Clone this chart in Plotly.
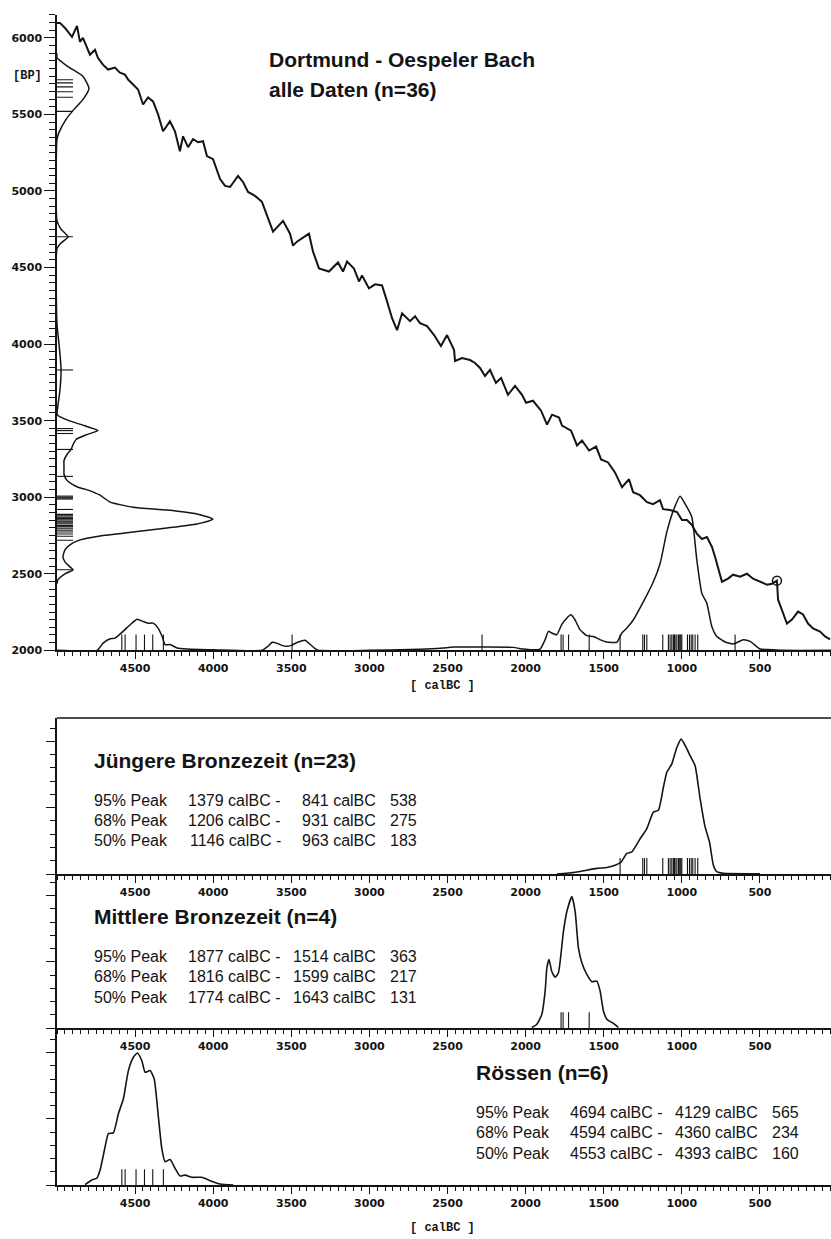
import plotly.graph_objects as go

# ---------------------------------------------------------------- data
# calibration curve (calBC, conventional 14C age BP)
cal_curve_calbc = [
    5000, 4981, 4949, 4930, 4904, 4872, 4853, 4834, 4808, 4789,
    4757, 4738, 4706, 4673, 4629, 4597, 4565, 4545, 4513, 4481,
    4449, 4417, 4385, 4353, 4321, 4277, 4245, 4213, 4193, 4161,
    4129, 4097, 4065, 4040, 4001, 3956, 3924, 3892, 3841, 3809,
    3777, 3732, 3688, 3656, 3617, 3553, 3508, 3489, 3464, 3406,
    3387, 3361, 3323, 3259, 3201, 3169, 3143, 3099, 3067, 3047,
    3003, 2964, 2919, 2887, 2855, 2823, 2791, 2740, 2708, 2676,
    2631, 2586, 2542, 2503, 2458, 2452, 2407, 2356, 2324, 2292,
    2260, 2228, 2190, 2157, 2113, 2068, 2023, 1997, 1953, 1901,
    1863, 1831, 1786, 1767, 1709, 1671, 1639, 1594, 1549, 1517,
    1472, 1428, 1383, 1338, 1312, 1268, 1223, 1184, 1140, 1120,
    1076, 1031, 999, 967, 935, 903, 871, 839, 807, 787,
    768, 743, 704, 672, 627, 583, 544, 500, 455, 423,
    391, 384, 352, 327, 295, 256, 224, 192, 160, 115,
    83, 51]
cal_curve_bp = [
    6098, 6098, 6065, 6039, 6007, 6078, 5974, 6000, 5935, 5890,
    5922, 5870, 5825, 5793, 5806, 5773, 5760, 5728, 5695, 5663,
    5565, 5611, 5585, 5500, 5390, 5455, 5390, 5260, 5357, 5286,
    5338, 5318, 5325, 5228, 5208, 5078, 5033, 5026, 5098, 5059,
    4994, 4968, 4929, 4838, 4734, 4805, 4721, 4643, 4669, 4708,
    4721, 4604, 4494, 4474, 4533, 4474, 4539, 4494, 4409, 4448,
    4364, 4390, 4383, 4279, 4169, 4091, 4201, 4150, 4182, 4137,
    4117, 4059, 3987, 4059, 3961, 3890, 3909, 3896, 3877, 3844,
    3792, 3831, 3747, 3779, 3669, 3727, 3669, 3617, 3630, 3565,
    3474, 3539, 3520, 3468, 3435, 3338, 3370, 3305, 3331, 3247,
    3227, 3162, 3065, 3117, 3033, 3013, 2968, 2955, 2981, 2922,
    2916, 2903, 2851, 2851, 2818, 2760, 2727, 2740, 2675, 2610,
    2533, 2448, 2468, 2494, 2481, 2500, 2468, 2448, 2429, 2435,
    2455, 2331, 2240, 2175, 2201, 2253, 2234, 2175, 2143, 2123,
    2091, 2071]
cal_marker_calbc = [391]
cal_marker_bp = [2455]

# summed 14C-age distribution (BP axis, relative density)
bp_density_bp = [
    5900, 5870, 5812, 5748, 5669, 5598, 5533, 5468, 5383, 5338,
    4805, 4750, 4701, 4660, 4624,
    4130, 4000, 3900, 3830, 3700, 3600, 3550,
    3533, 3500, 3468, 3435, 3409, 3377, 3344, 3312, 3279, 3240,
    3195, 3150, 3110, 3085, 3065, 3046, 3013, 2968, 2935, 2916,
    2890, 2857, 2825, 2799, 2773, 2747, 2721, 2688, 2656, 2610,
    2578, 2545, 2526, 2500, 2461, 2435]
bp_density = [
    0, 0, .071, .167, .205, .167, .109, .058, .013, 0,
    0, .026, .071, .026, 0,
    0, .013, .022, .026, .019, .006, 0,
    .006, .077, .173, .263, .192, .122, .103, .090, .064, .045,
    .045, .045, .064, .096, .135, .199, .276, .340, .487, .705,
    .897, 1.0, .897, .705, .487, .276, .147, .083, .051, .038,
    .051, .083, .103, .051, .006, 0]

# summed calibrated distribution, all data (calBC, relative density)
all_density_calbc = [
    5000, 4743, 4705, 4660, 4628, 4577, 4532, 4487, 4449, 4417, 4385,
    4353, 4327, 4308, 4276, 4231, 4167, 4001, 3688,
    3650, 3623, 3590, 3560, 3530, 3500, 3460, 3412, 3380, 3350, 3329,
    3000, 2740, 2600, 2528, 2464, 2272, 2080, 2016, 1960,
    1907, 1875, 1854, 1833, 1801, 1769, 1737, 1711, 1684, 1652,
    1609, 1566, 1525, 1483, 1416, 1384, 1352, 1310, 1246, 1182,
    1139, 1096, 1054, 1011, 979, 936, 904, 872, 840, 808,
    776, 723, 670, 606, 563, 499, 456, 349, 45]
all_density = [
    0, 0, .047, .075, .079, .123, .166, .202, .187, .176, .176,
    .144, .090, .037, .037, .015, .008, .003, 0,
    .026, .052, .045, .032, .026, .032, .052, .065, .039, .013, 0,
    0, .005, .010, .015, .021, .021, .019, .008, .003,
    .008, .069, .123, .112, .101, .166, .208, .230, .198, .134,
    .095, .090, .069, .054, .052, .112, .144, .198, .316, .445,
    .563, .768, .908, 1.0, .950, .865, .585, .370, .305, .155,
    .090, .054, .041, .069, .058, .008, .005, 0, 0]

# group distributions (calBC, relative density)
juengere_calbc = [1800, 1683, 1544, 1480, 1427, 1391, 1352, 1320, 1266, 1224,
                  1182, 1150, 1118, 1096, 1064, 1032, 1004, 972, 947, 915,
                  883, 851, 823, 798, 776, 734, 500]
juengere_density = [0, .013, .042, .049, .066, .086, .153, .164, .263, .337,
                    .459, .472, .643, .754, .816, .938, 1.0, .938, .877, .803,
                    .558, .349, .238, .066, .017, .005, .002]
mittlere_calbc = [1960, 1928, 1896, 1875, 1864, 1850, 1833, 1811, 1790, 1758,
                  1736, 1704, 1683, 1662, 1640, 1608, 1576, 1544, 1523, 1502,
                  1480, 1438, 1406]
mittlere_density = [.005, .030, .106, .282, .459, .522, .433, .388, .421, .735,
                    .887, 1.0, .887, .610, .497, .408, .353, .358, .282, .131,
                    .068, .036, .005]
roessen_calbc = [4820, 4777, 4745, 4724, 4692, 4671, 4639, 4607, 4575, 4543,
                 4511, 4485, 4457, 4436, 4404, 4378, 4351, 4329, 4308, 4276,
                 4244, 4212, 4180, 4137, 4073, 4020, 3956, 3871]
roessen_density = [.005, .040, .053, .115, .291, .391, .396, .541, .654, .867,
                   .968, 1.0, .942, .855, .867, .805, .517, .278, .178, .195,
                   .128, .070, .077, .060, .060, .035, .010, .002]

# individual samples
juengere_samples_calbc = [1395, 1250, 1239, 1224, 1122, 1086, 1075, 1064, 1054, 1047,
                          1043, 1032, 1022, 1017, 1011, 1006, 1000, 964, 951, 940,
                          930, 915, 898]
mittlere_samples_calbc = [1773, 1760, 1725, 1593]
roessen_samples_calbc = [4585, 4564, 4494, 4440, 4387, 4319]
other_samples_calbc = [3495, 2279, 659]

juengere_samples_bp = [3136, 3007, 3000, 2994, 2988, 2920, 2888, 2879, 2870, 2862,
                       2853, 2844, 2836, 2827, 2816, 2810, 2805, 2794, 2784, 2773,
                       2760, 2745, 2719]
mittlere_samples_bp = [3448, 3435, 3416, 3312]
roessen_samples_bp = [5727, 5706, 5680, 5648, 5612, 5520]
other_samples_bp = [4701, 3831, 2526]

# tick labels
x_tick_values = [4500, 4000, 3500, 3000, 2500, 2000, 1500, 1000, 500]
y_tick_values = [2000, 2500, 3000, 3500, 4000, 4500, 5000, 5500, 6000]

# peak statistics
peak_levels = ["95% Peak", "68% Peak", "50% Peak"]
juengere_from = [1379, 1206, 1146]
juengere_to = [841, 931, 963]
juengere_span = [538, 275, 183]
mittlere_from = [1877, 1816, 1774]
mittlere_to = [1514, 1599, 1643]
mittlere_span = [363, 217, 131]
roessen_from = [4694, 4594, 4553]
roessen_to = [4129, 4360, 4393]
roessen_span = [565, 234, 160]

# ---------------------------------------------------------------- layout helpers
W, H = 831, 1239
X_LEFT = 57


def py(p):
    return 1 - p / H


def pxx(p):
    return p / W


XR = [5000, 45]
TOP = (15, 654)
P1 = (722, 879)
P2 = (879, 1034)
P3 = (1034, 1192)
TOP_YR = [2000, 6150]
BP_DENS_PX = 156      # px width of density peak
ALL_DENS_PX = 155     # px height of all-data density peak
PANEL_PEAK_PX = [135.7, 132.3, 133.0]
TICK_PX = 16
INK = "#141414"
TICKFONT = dict(family="DejaVu Sans", size=11, color=INK, weight="bold")
MONO = dict(family="Liberation Mono, Courier New, monospace", size=12, color=INK, weight="bold")
SANS = "Liberation Sans, Arial, sans-serif"

fig = go.Figure()


def ticks_vertical(vals, h):
    xs, ys = [], []
    for v in vals:
        xs += [v, v, None]
        ys += [0, h, None]
    return xs, ys


def ticks_horizontal(vals, length):
    xs, ys = [], []
    for v in vals:
        xs += [0, length, None]
        ys += [v, v, None]
    return xs, ys


# --- top panel
fig.add_trace(go.Scatter(x=cal_curve_calbc, y=cal_curve_bp, mode="lines",
                         line=dict(color=INK, width=2.0), xaxis="x", yaxis="y",
                         showlegend=False, hoverinfo="skip"))
fig.add_trace(go.Scatter(x=cal_marker_calbc, y=cal_marker_bp, mode="markers",
                         marker=dict(symbol="circle-open", size=9, color=INK,
                                     line=dict(width=1.5, color=INK)),
                         xaxis="x", yaxis="y", showlegend=False))
fig.add_trace(go.Scatter(x=bp_density, y=bp_density_bp, mode="lines",
                         line=dict(color=INK, width=1.5, shape="spline", smoothing=0.5),
                         xaxis="x6", yaxis="y", showlegend=False))
all_bp_samples = roessen_samples_bp + other_samples_bp + mittlere_samples_bp + juengere_samples_bp
hx, hy = ticks_horizontal(all_bp_samples, TICK_PX / BP_DENS_PX)
fig.add_trace(go.Scatter(x=hx, y=hy, mode="lines", line=dict(color=INK, width=1.1),
                         xaxis="x6", yaxis="y", showlegend=False))
fig.add_trace(go.Scatter(x=all_density_calbc, y=all_density, mode="lines",
                         line=dict(color=INK, width=1.5, shape="spline", smoothing=0.5),
                         xaxis="x", yaxis="y5", showlegend=False))
all_cal_samples = roessen_samples_calbc + other_samples_calbc + mittlere_samples_calbc + juengere_samples_calbc
vx, vy = ticks_vertical(all_cal_samples, TICK_PX / ALL_DENS_PX)
fig.add_trace(go.Scatter(x=vx, y=vy, mode="lines", line=dict(color=INK, width=1.1),
                         xaxis="x", yaxis="y5", showlegend=False))

# --- group panels
groups = [
    ("x2", "y2", juengere_calbc, juengere_density, juengere_samples_calbc, PANEL_PEAK_PX[0]),
    ("x3", "y3", mittlere_calbc, mittlere_density, mittlere_samples_calbc, PANEL_PEAK_PX[1]),
    ("x4", "y4", roessen_calbc, roessen_density, roessen_samples_calbc, PANEL_PEAK_PX[2]),
]
for xa, ya, cx, cd, samples, peak_px in groups:
    fig.add_trace(go.Scatter(x=cx, y=cd, mode="lines",
                             line=dict(color=INK, width=1.6, shape="spline", smoothing=0.5),
                             xaxis=xa, yaxis=ya, showlegend=False))
    sx, sy = ticks_vertical(samples, TICK_PX / peak_px)
    fig.add_trace(go.Scatter(x=sx, y=sy, mode="lines", line=dict(color=INK, width=1.1),
                             xaxis=xa, yaxis=ya, showlegend=False))


def xaxis_style(anchor):
    return dict(domain=[X_LEFT / W, 1.0], range=XR, anchor=anchor,
                tickmode="array", tickvals=x_tick_values,
                ticks="outside", ticklen=7, tickwidth=1.2, tickcolor=INK,
                minor=dict(tickmode="linear", tick0=0, dtick=50, ticks="outside",
                           ticklen=4, tickwidth=1, tickcolor=INK),
                showline=True, linecolor=INK, linewidth=1.5,
                showgrid=False, zeroline=False, tickfont=TICKFONT)


def panel_yaxis(dom, peak_px, anchor):
    hpx = dom[1] - dom[0]
    top = hpx / peak_px
    return dict(domain=[py(dom[1]), py(dom[0])], range=[0, top], anchor=anchor,
                tickmode="linear", tick0=0, dtick=66.7 / peak_px,
                ticks="outside", ticklen=9, tickwidth=1.2, tickcolor=INK,
                minor=dict(tickmode="linear", tick0=0, dtick=13.34 / peak_px, ticks="outside",
                           ticklen=5, tickwidth=1, tickcolor=INK),
                showticklabels=False, showline=True, linecolor=INK, linewidth=1.5,
                showgrid=False, zeroline=False)


layout = dict(
    width=W, height=H, margin=dict(l=0, r=0, t=0, b=0),
    paper_bgcolor="white", plot_bgcolor="white", showlegend=False,
    xaxis=xaxis_style("y"),
    yaxis=dict(domain=[py(TOP[1]), py(TOP[0])], range=TOP_YR, anchor="x",
               tickmode="array", tickvals=y_tick_values,
               ticks="outside", ticklen=11, tickwidth=1.2, tickcolor=INK,
               minor=dict(tickmode="linear", tick0=0, dtick=50, ticks="outside",
                          ticklen=6, tickwidth=1, tickcolor=INK),
               showline=True, linecolor=INK, linewidth=1.5,
               showgrid=False, zeroline=False, tickfont=TICKFONT),
    xaxis5=dict(overlaying="x", side="top", anchor="y", range=XR,
                tickmode="array", tickvals=x_tick_values,
                ticks="inside", ticklen=6, tickwidth=1.2, tickcolor=INK,
                minor=dict(tickmode="linear", tick0=0, dtick=50, ticks="inside",
                           ticklen=4, tickwidth=1, tickcolor=INK),
                showticklabels=False, showline=True, linecolor=INK, linewidth=1.5,
                showgrid=False, zeroline=False),
    xaxis6=dict(overlaying="x", anchor="y", range=[0, (W - X_LEFT) / BP_DENS_PX],
                visible=False),
    yaxis5=dict(overlaying="y", anchor="x", range=[0, (TOP[1] - TOP[0]) / ALL_DENS_PX],
                visible=False),
    yaxis6=dict(overlaying="y", anchor="free", position=1.0, side="right", range=TOP_YR,
                tickmode="linear", tick0=4750 - 7, dtick=250, ticks="inside", ticklen=2,
                tickcolor="#555", showticklabels=False, showline=False,
                showgrid=False, zeroline=False),
    xaxis2=xaxis_style("y2"),
    yaxis2=panel_yaxis(P1, PANEL_PEAK_PX[0], "x2"),
    xaxis3=xaxis_style("y3"),
    yaxis3=panel_yaxis(P2, PANEL_PEAK_PX[1], "x3"),
    xaxis4=xaxis_style("y4"),
    yaxis4=panel_yaxis(P3, PANEL_PEAK_PX[2], "x4"),
)
fig.update_layout(**layout)

# top border of group block
fig.add_shape(type="line", xref="paper", yref="paper",
              x0=X_LEFT / W, x1=1.0, y0=py(P1[0]), y1=py(P1[0]),
              line=dict(color=INK, width=1.5))

ann = []


def text(x, y, s, size=16, bold=False, anchor="left", font=None):
    f = font or dict(family=SANS, size=size, color=INK, weight="bold" if bold else "normal")
    ann.append(dict(x=pxx(x), y=py(y), xref="paper", yref="paper", text=s,
                    showarrow=False, xanchor=anchor, yanchor="middle", font=f))


text(267, 60, "Dortmund - Oespeler Bach", size=21, bold=True)
text(267, 90, "alle Daten (n=36)", size=21, bold=True)
text(44, 76, "[BP]", anchor="right", font=MONO)
text(443, 690, "[ calBC ]", anchor="center", font=MONO)
text(443, 1235, "[ calBC ]", anchor="center", font=MONO)


def stats_block(x0, title_y, title, row_y, frm, to, span):
    text(x0, title_y, title, size=21, bold=True)
    for i in range(3):
        yy = row_y[i]
        text(x0, yy, peak_levels[i])
        text(x0 + 191, yy, f"{frm[i]} calBC -", anchor="right")
        text(x0 + 286, yy, f"{to[i]} calBC", anchor="right")
        text(x0 + 296, yy, f"{span[i]}")


stats_block(92, 765, "Jüngere Bronzezeit (n=23)", [805, 825, 845],
            juengere_from, juengere_to, juengere_span)
stats_block(92, 922, "Mittlere Bronzezeit (n=4)", [962, 982, 1003],
            mittlere_from, mittlere_to, mittlere_span)
stats_block(474, 1079, "Rössen (n=6)", [1119, 1139, 1160],
            roessen_from, roessen_to, roessen_span)

fig.update_layout(annotations=ann)
fig.write_html("out.html")
